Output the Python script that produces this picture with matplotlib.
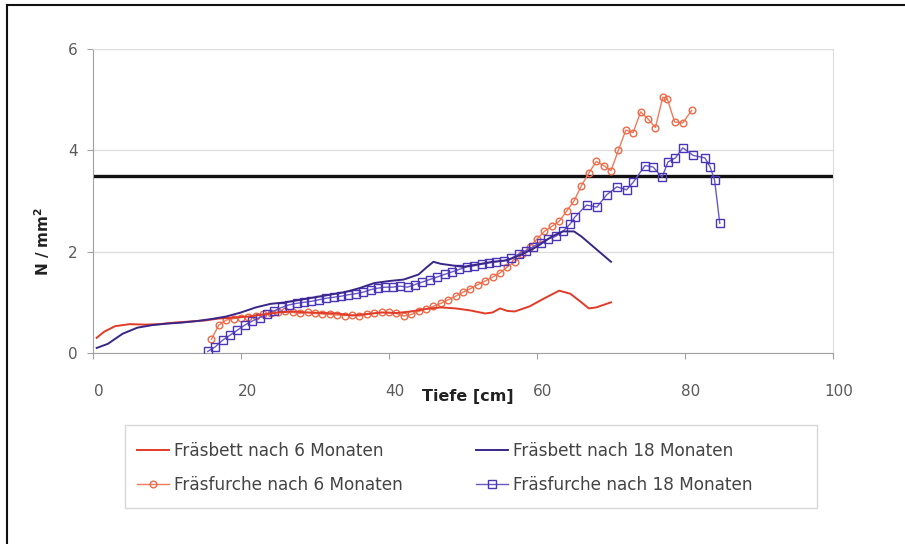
import matplotlib
matplotlib.use("Agg")
import matplotlib.pyplot as plt
import matplotlib.transforms as mtransforms
from matplotlib.patches import Rectangle

plt.rcParams['font.family'] = ['DejaVu Sans']

# Fräsbett nach 6 Monaten
bett6_x = [0.5, 1.5, 3, 5, 7, 9, 11, 13, 15, 17, 19, 21, 23, 25, 27, 29, 31, 33, 35, 37,
           39, 41, 43, 45, 47, 49, 51, 53, 54, 55, 56, 57, 59, 61, 63, 64.5, 66, 67, 68, 70]
bett6_y = [0.3, 0.42, 0.53, 0.57, 0.56, 0.57, 0.6, 0.62, 0.64, 0.68, 0.7, 0.72, 0.76, 0.8, 0.82, 0.8, 0.79, 0.78, 0.74, 0.77,
           0.8, 0.79, 0.82, 0.87, 0.9, 0.88, 0.84, 0.78, 0.8, 0.88, 0.83, 0.82, 0.92, 1.08, 1.23, 1.17, 1.0, 0.88, 0.9, 1.0]

# Fräsbett nach 18 Monaten
bett18_x = [0.5, 2, 4, 6, 8, 10, 12, 14, 16, 18, 20, 22, 24, 26, 28, 30, 32, 34, 36, 38,
            40, 42, 44, 45, 46, 47, 48, 50, 52, 54, 56, 58, 60, 62, 63.5, 65, 66, 68, 70]
bett18_y = [0.1, 0.18, 0.38, 0.5, 0.55, 0.58, 0.6, 0.63, 0.67, 0.72, 0.8, 0.9, 0.97, 1.0, 1.05, 1.1, 1.15, 1.2, 1.28, 1.38,
            1.42, 1.45, 1.55, 1.68, 1.8, 1.76, 1.74, 1.7, 1.75, 1.8, 1.83, 1.95, 2.1, 2.3, 2.4, 2.4, 2.3, 2.05, 1.8]

# Fräsfurche nach 6 Monaten
furche6_x = [16, 17, 18, 19, 20, 21, 22, 23, 24, 25, 26, 27, 28, 29, 30, 31, 32, 33, 34, 35,
             36, 37, 38, 39, 40, 41, 42, 43, 44, 45, 46, 47, 48, 49, 50, 51, 52, 53, 54, 55,
             56, 57, 58, 59, 60, 61, 62, 63, 64, 65, 66, 67, 68, 69, 70, 71, 72, 73, 74, 75,
             76, 77, 77.6, 78.6, 79.7, 80.9]
furche6_y = [0.27, 0.55, 0.65, 0.68, 0.7, 0.72, 0.74, 0.76, 0.78, 0.8, 0.82, 0.8, 0.78, 0.8, 0.78, 0.77, 0.76, 0.75, 0.74, 0.75,
             0.73, 0.76, 0.78, 0.8, 0.8, 0.78, 0.73, 0.76, 0.82, 0.87, 0.92, 0.98, 1.05, 1.12, 1.2, 1.27, 1.35, 1.42, 1.5, 1.58,
             1.7, 1.8, 1.95, 2.1, 2.25, 2.4, 2.5, 2.6, 2.8, 3.0, 3.3, 3.55, 3.78, 3.7, 3.6, 4.0, 4.4, 4.35, 4.76, 4.62,
             4.45, 5.05, 5.02, 4.56, 4.54, 4.79]

# Fräsfurche nach 18 Monaten
furche18_x = [15.5, 16.5, 17.5, 18.5, 19.5, 20.5, 21.5, 22.5, 23.5, 24.5, 25.5, 26.5, 27.5, 28.5, 29.5, 30.5,
              31.5, 32.5, 33.5, 34.5, 35.5, 36.5, 37.5, 38.5, 39.5, 40.5, 41.5, 42.5, 43.5, 44.5, 45.5, 46.5,
              47.5, 48.5, 49.5, 50.5, 51.5, 52.5, 53.5, 54.5, 55.5, 56.5, 57.5, 58.5, 59.5, 60.5, 61.5, 62.5,
              63.5, 64.5, 65.1, 66.7, 68.1, 69.4, 70.8, 72.1, 73, 74.6, 75.7, 76.9, 77.7, 78.7, 79.7, 81.1,
              82.7, 83.4, 84, 84.7]
furche18_y = [0.03, 0.12, 0.25, 0.35, 0.45, 0.55, 0.63, 0.7, 0.77, 0.83, 0.9, 0.95, 0.98, 1.0, 1.02, 1.05,
              1.08, 1.1, 1.12, 1.15, 1.17, 1.2, 1.25, 1.28, 1.3, 1.3, 1.32, 1.3, 1.35, 1.4, 1.45, 1.5,
              1.55, 1.6, 1.65, 1.7, 1.72, 1.75, 1.78, 1.8, 1.82, 1.87, 1.95, 2.02, 2.1, 2.18, 2.25, 2.3,
              2.4, 2.55, 2.68, 2.92, 2.88, 3.12, 3.28, 3.22, 3.37, 3.7, 3.67, 3.47, 3.77, 3.85, 4.05, 3.9,
              3.85, 3.67, 3.41, 2.56]

grenzwert = 3.5
x_ticks = [0, 20, 40, 60, 80, 100]
y_ticks = [0, 2, 4, 6]

W, H = 905, 544
fig = plt.figure(figsize=(W/100, H/100), dpi=100)
ax = fig.add_axes([93/W, 1 - 353/H, 740/W, 304/H])

ax.axhline(grenzwert, color='#111111', lw=2.4, zorder=2)

l1, = ax.plot(bett6_x, bett6_y, color='#e23b28', lw=1.4, zorder=4, label='Fräsbett nach 6 Monaten')
l3, = ax.plot(furche6_x, furche6_y, color='#f07a5a', lw=1.0, marker='o', ms=4.8, mfc='none',
              mec='#ee6a48', mew=1.0, zorder=3, label='Fräsfurche nach 6 Monaten')
l2, = ax.plot(bett18_x, bett18_y, color='#3a2688', lw=1.4, zorder=4, label='Fräsbett nach 18 Monaten')
l4, = ax.plot(furche18_x, furche18_y, color='#6a58c8', lw=1.0, marker='s', ms=6.2, mfc='none',
              mec='#4a35b8', mew=1.0, zorder=3, label='Fräsfurche nach 18 Monaten')

ax.set_xlim(0, 100)
ax.set_ylim(0, 6)
ax.set_xticks(x_ticks)
ax.set_yticks(y_ticks)
ax.yaxis.grid(True, color='#dddddd', lw=0.9)
ax.set_axisbelow(True)
for side in ['top', 'right']:
    ax.spines[side].set_color('#dddddd')
for side in ['left', 'bottom']:
    ax.spines[side].set_color('#a0a0a0')
ax.tick_params(axis='both', colors='#a0a0a0', labelcolor='#5a5a5a', labelsize=11, length=4, direction='out')
ax.tick_params(axis='x', pad=18)
ax.tick_params(axis='y', pad=7)
shift = mtransforms.ScaledTranslation(6/100, 0, fig.dpi_scale_trans)
for lab in ax.get_xticklabels():
    lab.set_transform(lab.get_transform() + shift)

fig.text(42/W, 1 - 241/H, 'N / mm$^\\mathbf{2}$', rotation=90, ha='center', va='center',
         fontsize=11, fontweight='bold', color='#222222')
fig.text(468/W, 1 - 396/H, 'Tiefe [cm]', ha='center', va='center', fontsize=11.5,
         fontweight='bold', color='#222222')

# legend box drawn separately so the entries can sit left of centre
fig.add_artist(Rectangle((125/W, 1 - 508/H), 692/W, 83/H, transform=fig.transFigure,
                         facecolor='white', edgecolor='#d8d8d8', lw=1.0, zorder=1))
handles = [l1, l3, l2, l4]
leg = fig.legend(handles, [h.get_label() for h in handles], ncol=2, loc='upper left',
                 bbox_to_anchor=(137/W, 1 - 442/H), borderaxespad=0, borderpad=0,
                 fontsize=12.2, handlelength=1.9, handletextpad=0.3, columnspacing=4.3,
                 labelspacing=0.95, frameon=False, labelcolor='#444444')
leg.set_zorder(2)

# outer frame, only top and left edges
fig.add_artist(plt.Line2D([7/W, 7/W], [0, 1 - 5/H], color='#111111', lw=1.5))
fig.add_artist(plt.Line2D([7/W, 1], [1 - 5/H, 1 - 5/H], color='#111111', lw=1.5))

fig.savefig('out.png', dpi=100)
